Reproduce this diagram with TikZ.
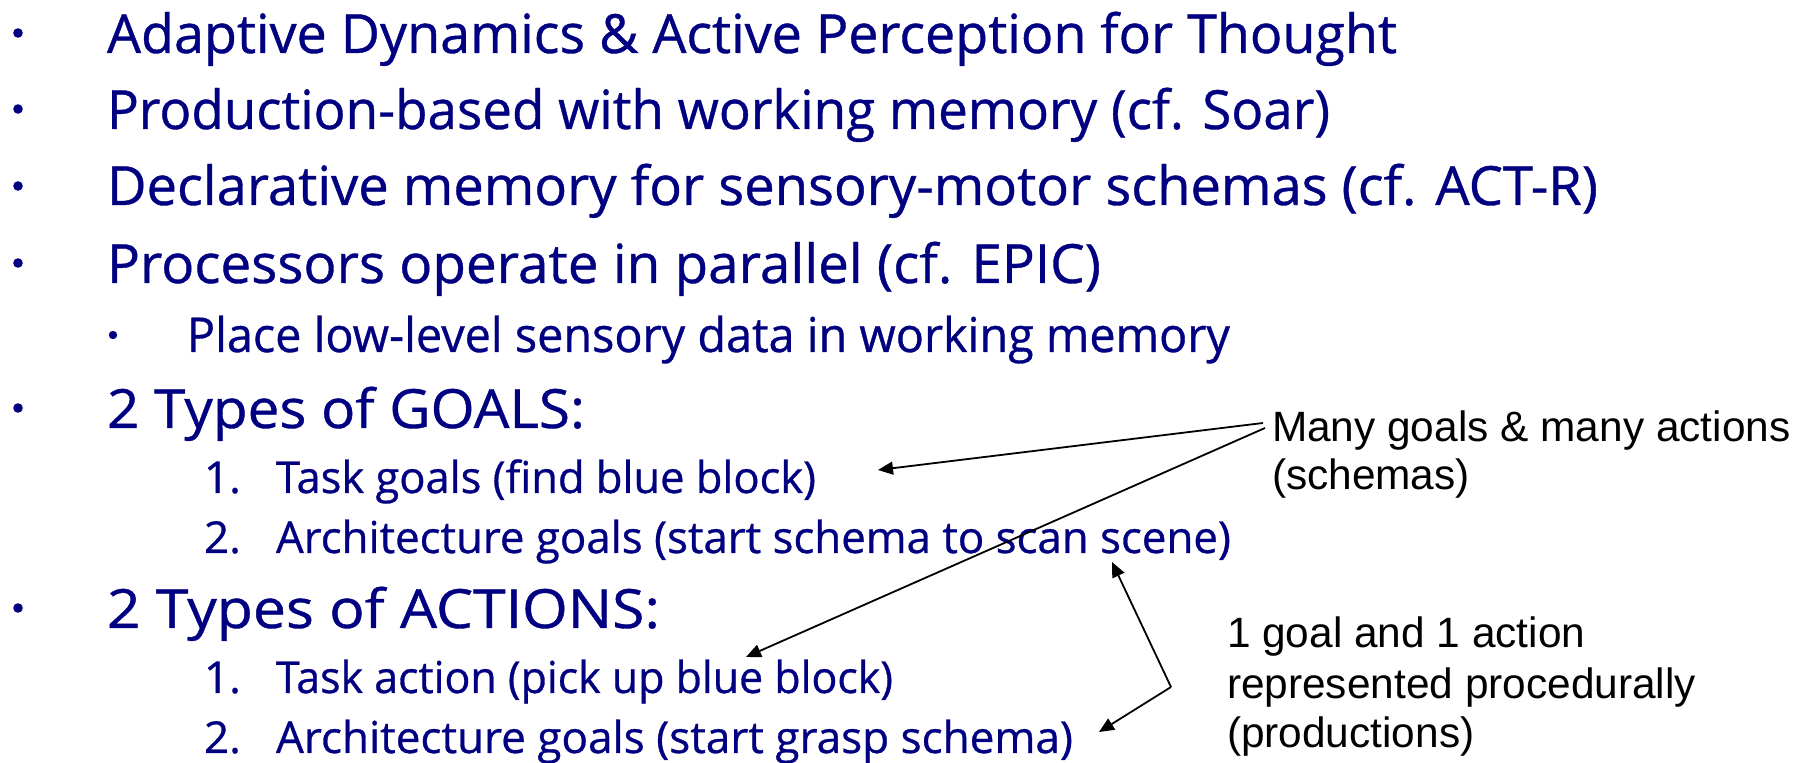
\documentclass[tikz,border=0pt]{standalone}
\usepackage{fontspec}
\usepackage{graphicx}
\usetikzlibrary{arrows.meta}
\setmainfont{Open Sans}[FakeBold=0.7]
\newfontfamily\notefont{Liberation Sans}
\definecolor{slideblue}{RGB}{0,0,128}
% set a line of text and stretch it horizontally to a given width (in px)
\newsavebox\fitbox
\newdimen\fitdim
\newcommand\fitto[2]{\sbox\fitbox{#2}\fitdim=\wd\fitbox\pgfmathsetmacro\fitratio{0.5*#1/\fitdim}\scalebox{\fitratio}[1]{\usebox\fitbox}}
\begin{document}
\begin{tikzpicture}[x=0.5pt,y=-0.5pt,
  lvlone/.style={anchor=base west,inner sep=0pt,outer sep=0pt,text=slideblue,font=\fontsize{27}{32}\selectfont},
  lvltwo/.style={lvlone,font=\fontsize{24}{28}\selectfont},
  lvlthree/.style={lvlone,font=\fontsize{22}{26}\selectfont},
  dotone/.style={circle,fill=slideblue,inner sep=0pt,minimum size=4.8pt},
  dottwo/.style={dotone,minimum size=4.2pt},
  note/.style={anchor=base west,inner sep=0pt,outer sep=0pt,text=black,font=\notefont\fontsize{21.2}{25}\selectfont},
  conn/.style={line width=0.9pt,-{Triangle[length=7.5pt,width=6.5pt]}}]
\useasboundingbox (0,0) rectangle (1800,763);

% bullets
\node[dotone] (b1) at (18,33) {};
\node[dotone] (b2) at (18,109) {};
\node[dotone] (b3) at (18,186) {};
\node[dotone] (b4) at (18,263) {};
\node[dottwo] (b5) at (113,335) {};
\node[dotone] (b6) at (18,408) {};
\node[dotone] (b7) at (18,608) {};

% first-level items
\node[lvlone] (l1) at (107,53)  {\fitto{1290}{Adaptive Dynamics \& Active Perception for Thought}};
\node[lvlone] (l2) at (107,129) {\fitto{1223}{Production-based with working memory (cf. Soar)}};
\node[lvlone] (l3) at (107,205) {\fitto{1491}{Declarative memory for sensory-motor schemas (cf. ACT-R)}};
\node[lvlone] (l4) at (107,283) {\fitto{994}{Processors operate in parallel (cf. EPIC)}};
\node[lvltwo] (l5) at (187,352) {\fitto{1043}{Place low-level sensory data in working memory}};
\node[lvlone] (l6) at (107,428) {\fitto{478}{2 Types of GOALS:}};
\node[lvlone] (l9) at (107,628) {\fitto{553}{2 Types of ACTIONS:}};

% numbered items
\node[lvlthree] (n7)  at (204,493) {1.};
\node[lvlthree] (l7)  at (276,493) {\fitto{540}{Task goals (find blue block)}};
\node[lvlthree] (n8)  at (204,553) {2.};
\node[lvlthree] (l8)  at (276,553) {\fitto{955}{Architecture goals (start schema to scan scene)}};
\node[lvlthree] (n10) at (204,693) {1.};
\node[lvlthree] (l10) at (276,693) {\fitto{617}{Task action (pick up blue block)}};
\node[lvlthree] (n11) at (204,753) {2.};
\node[lvlthree] (l11) at (276,753) {\fitto{797}{Architecture goals (start grasp schema)}};

% side notes
\node[note] (many)  at (1272,442) {Many goals \& many actions};
\node[note] (schem) at (1272,490) {(schemas)};
\node[note] (one)   at (1227,648) {1 goal and 1 action};
\node[note] (repr)  at (1227,699) {represented procedurally};
\node[note] (prod)  at (1227,748) {(productions)};

% connector ends
\coordinate (srcA) at (1263,423);
\coordinate (srcB) at (1265,428);
\coordinate (tipA) at (878,470);
\coordinate (tipB) at (746,657);
\coordinate (elbow) at (1171,687);
\coordinate (tipC) at (1112,562);
\coordinate (tipD) at (1099,732);

\draw[conn] (srcA) -- (tipA);
\draw[conn] (srcB) -- (tipB);
\draw[conn] (elbow) -- (tipC);
\draw[conn] (elbow) -- (tipD);
\end{tikzpicture}
\end{document}
